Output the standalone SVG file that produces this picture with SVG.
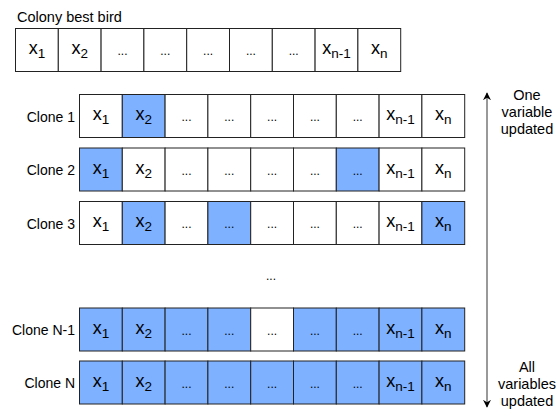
<svg xmlns="http://www.w3.org/2000/svg" width="556" height="409" viewBox="0 0 556 409">
<style>
text{font-family:"Liberation Sans",Arial,sans-serif;fill:#000}
.c{fill:#fff;stroke:#222;stroke-width:1}
.b{fill:#7EB1FF;stroke:#222;stroke-width:1}
.v{font-size:18px;text-anchor:middle}
.s{font-size:13.5px}
.d{font-size:12px;text-anchor:middle}
.l{font-size:14px;text-anchor:end}
.r{font-size:14.5px;text-anchor:middle}
</style>
<defs>
<marker id="ah" viewBox="0 0 10 10" refX="9" refY="5" markerWidth="8" markerHeight="8" orient="auto-start-reverse" markerUnits="userSpaceOnUse">
<path d="M0,0 L10,5 L0,10 L3,5 z" fill="#000"/>
</marker>
</defs>
<rect width="556" height="409" fill="#fff"/>

<g id="best">
<text x="17" y="22" style="font-size:14.5px">Colony best bird</text>
<rect class="c" x="15.5" y="28.5" width="42.8" height="43"/>
<rect class="c" x="58.3" y="28.5" width="42.8" height="43"/>
<rect class="c" x="101.1" y="28.5" width="42.8" height="43"/>
<rect class="c" x="143.9" y="28.5" width="42.8" height="43"/>
<rect class="c" x="186.7" y="28.5" width="42.8" height="43"/>
<rect class="c" x="229.5" y="28.5" width="42.8" height="43"/>
<rect class="c" x="272.3" y="28.5" width="42.8" height="43"/>
<rect class="c" x="315.1" y="28.5" width="42.8" height="43"/>
<rect class="c" x="357.9" y="28.5" width="42.8" height="43"/>
<text class="v" x="36.9" y="54">x<tspan class="s" dy="4">1</tspan></text>
<text class="v" x="79.7" y="54">x<tspan class="s" dy="4">2</tspan></text>
<text class="d" x="122.5" y="55">...</text>
<text class="d" x="165.3" y="55">...</text>
<text class="d" x="208.1" y="55">...</text>
<text class="d" x="250.9" y="55">...</text>
<text class="d" x="293.7" y="55">...</text>
<text class="v" x="336.5" y="54">x<tspan class="s" dy="4">n-1</tspan></text>
<text class="v" x="379.3" y="54">x<tspan class="s" dy="4">n</tspan></text>
</g>

<g id="clone1" transform="translate(0,94.5)">
<text class="l" x="75" y="27">Clone 1</text>
<rect class="c" x="79.5" y="0" width="42.8" height="43"/>
<rect class="b" x="122.3" y="0" width="42.8" height="43"/>
<rect class="c" x="165.1" y="0" width="42.8" height="43"/>
<rect class="c" x="207.9" y="0" width="42.8" height="43"/>
<rect class="c" x="250.7" y="0" width="42.8" height="43"/>
<rect class="c" x="293.5" y="0" width="42.8" height="43"/>
<rect class="c" x="336.3" y="0" width="42.8" height="43"/>
<rect class="c" x="379.1" y="0" width="42.8" height="43"/>
<rect class="c" x="421.9" y="0" width="42.8" height="43"/>
<text class="v" x="100.9" y="25.5">x<tspan class="s" dy="4">1</tspan></text>
<text class="v" x="143.7" y="25.5">x<tspan class="s" dy="4">2</tspan></text>
<text class="d" x="186.5" y="26.5">...</text>
<text class="d" x="229.3" y="26.5">...</text>
<text class="d" x="272.1" y="26.5">...</text>
<text class="d" x="314.9" y="26.5">...</text>
<text class="d" x="357.7" y="26.5">...</text>
<text class="v" x="400.5" y="25.5">x<tspan class="s" dy="4">n-1</tspan></text>
<text class="v" x="443.3" y="25.5">x<tspan class="s" dy="4">n</tspan></text>
</g>

<g id="clone2" transform="translate(0,148)">
<text class="l" x="75" y="27">Clone 2</text>
<rect class="b" x="79.5" y="0" width="42.8" height="43"/>
<rect class="c" x="122.3" y="0" width="42.8" height="43"/>
<rect class="c" x="165.1" y="0" width="42.8" height="43"/>
<rect class="c" x="207.9" y="0" width="42.8" height="43"/>
<rect class="c" x="250.7" y="0" width="42.8" height="43"/>
<rect class="c" x="293.5" y="0" width="42.8" height="43"/>
<rect class="b" x="336.3" y="0" width="42.8" height="43"/>
<rect class="c" x="379.1" y="0" width="42.8" height="43"/>
<rect class="c" x="421.9" y="0" width="42.8" height="43"/>
<text class="v" x="100.9" y="25.5">x<tspan class="s" dy="4">1</tspan></text>
<text class="v" x="143.7" y="25.5">x<tspan class="s" dy="4">2</tspan></text>
<text class="d" x="186.5" y="26.5">...</text>
<text class="d" x="229.3" y="26.5">...</text>
<text class="d" x="272.1" y="26.5">...</text>
<text class="d" x="314.9" y="26.5">...</text>
<text class="d" x="357.7" y="26.5">...</text>
<text class="v" x="400.5" y="25.5">x<tspan class="s" dy="4">n-1</tspan></text>
<text class="v" x="443.3" y="25.5">x<tspan class="s" dy="4">n</tspan></text>
</g>

<g id="clone3" transform="translate(0,201.5)">
<text class="l" x="75" y="27">Clone 3</text>
<rect class="c" x="79.5" y="0" width="42.8" height="43"/>
<rect class="b" x="122.3" y="0" width="42.8" height="43"/>
<rect class="c" x="165.1" y="0" width="42.8" height="43"/>
<rect class="b" x="207.9" y="0" width="42.8" height="43"/>
<rect class="c" x="250.7" y="0" width="42.8" height="43"/>
<rect class="c" x="293.5" y="0" width="42.8" height="43"/>
<rect class="c" x="336.3" y="0" width="42.8" height="43"/>
<rect class="c" x="379.1" y="0" width="42.8" height="43"/>
<rect class="b" x="421.9" y="0" width="42.8" height="43"/>
<text class="v" x="100.9" y="25.5">x<tspan class="s" dy="4">1</tspan></text>
<text class="v" x="143.7" y="25.5">x<tspan class="s" dy="4">2</tspan></text>
<text class="d" x="186.5" y="26.5">...</text>
<text class="d" x="229.3" y="26.5">...</text>
<text class="d" x="272.1" y="26.5">...</text>
<text class="d" x="314.9" y="26.5">...</text>
<text class="d" x="357.7" y="26.5">...</text>
<text class="v" x="400.5" y="25.5">x<tspan class="s" dy="4">n-1</tspan></text>
<text class="v" x="443.3" y="25.5">x<tspan class="s" dy="4">n</tspan></text>
</g>

<g id="gap">
<text class="d" x="271" y="280">...</text>
</g>

<g id="cloneN1" transform="translate(0,308)">
<text class="l" x="75" y="27">Clone N-1</text>
<rect class="b" x="79.5" y="0" width="42.8" height="43"/>
<rect class="b" x="122.3" y="0" width="42.8" height="43"/>
<rect class="b" x="165.1" y="0" width="42.8" height="43"/>
<rect class="b" x="207.9" y="0" width="42.8" height="43"/>
<rect class="c" x="250.7" y="0" width="42.8" height="43"/>
<rect class="b" x="293.5" y="0" width="42.8" height="43"/>
<rect class="b" x="336.3" y="0" width="42.8" height="43"/>
<rect class="b" x="379.1" y="0" width="42.8" height="43"/>
<rect class="b" x="421.9" y="0" width="42.8" height="43"/>
<text class="v" x="100.9" y="25.5">x<tspan class="s" dy="4">1</tspan></text>
<text class="v" x="143.7" y="25.5">x<tspan class="s" dy="4">2</tspan></text>
<text class="d" x="186.5" y="26.5">...</text>
<text class="d" x="229.3" y="26.5">...</text>
<text class="d" x="272.1" y="26.5">...</text>
<text class="d" x="314.9" y="26.5">...</text>
<text class="d" x="357.7" y="26.5">...</text>
<text class="v" x="400.5" y="25.5">x<tspan class="s" dy="4">n-1</tspan></text>
<text class="v" x="443.3" y="25.5">x<tspan class="s" dy="4">n</tspan></text>
</g>

<g id="cloneN" transform="translate(0,361)">
<text class="l" x="75" y="27">Clone N</text>
<rect class="b" x="79.5" y="0" width="42.8" height="43"/>
<rect class="b" x="122.3" y="0" width="42.8" height="43"/>
<rect class="b" x="165.1" y="0" width="42.8" height="43"/>
<rect class="b" x="207.9" y="0" width="42.8" height="43"/>
<rect class="b" x="250.7" y="0" width="42.8" height="43"/>
<rect class="b" x="293.5" y="0" width="42.8" height="43"/>
<rect class="b" x="336.3" y="0" width="42.8" height="43"/>
<rect class="b" x="379.1" y="0" width="42.8" height="43"/>
<rect class="b" x="421.9" y="0" width="42.8" height="43"/>
<text class="v" x="100.9" y="25.5">x<tspan class="s" dy="4">1</tspan></text>
<text class="v" x="143.7" y="25.5">x<tspan class="s" dy="4">2</tspan></text>
<text class="d" x="186.5" y="26.5">...</text>
<text class="d" x="229.3" y="26.5">...</text>
<text class="d" x="272.1" y="26.5">...</text>
<text class="d" x="314.9" y="26.5">...</text>
<text class="d" x="357.7" y="26.5">...</text>
<text class="v" x="400.5" y="25.5">x<tspan class="s" dy="4">n-1</tspan></text>
<text class="v" x="443.3" y="25.5">x<tspan class="s" dy="4">n</tspan></text>
</g>

<g id="connectors">
<line x1="487" y1="93" x2="487" y2="407" stroke="#555" stroke-width="1.2" marker-start="url(#ah)" marker-end="url(#ah)"/>
</g>

<g id="labels">
<text class="r" x="527" y="100">One</text>
<text class="r" x="527" y="117">variable</text>
<text class="r" x="527" y="134">updated</text>
<text class="r" x="527" y="372">All</text>
<text class="r" x="527" y="389">variables</text>
<text class="r" x="527" y="406">updated</text>
</g>
</svg>
